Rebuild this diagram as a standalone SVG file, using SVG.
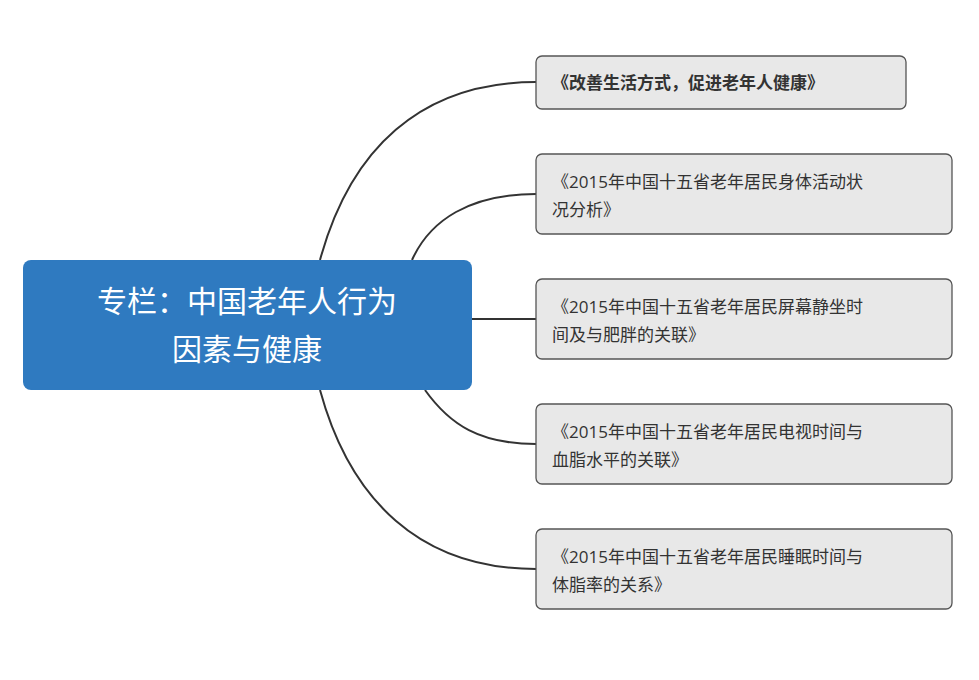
<svg xmlns="http://www.w3.org/2000/svg" width="979" height="680" viewBox="0 0 979 680">
<style>
.n{fill:#e8e8e8;stroke:#555;stroke-width:1.3}
.t{font-family:"Open Sans","Noto Sans CJK SC",sans-serif;font-size:17px;fill:#333}
.c{fill:none;stroke:#333;stroke-width:2}
</style>
<rect width="979" height="680" fill="#fff"/>
<g id="connectors">
<path class="c" d="M320 260 C350 150 420 82 536 82"/>
<path class="c" d="M412 260 C430 220 470 194 536 194"/>
<path class="c" d="M472 319 L536 319"/>
<path class="c" d="M425 390 C450 425 480 444 536 444"/>
<path class="c" d="M320 390 C350 500 420 569 536 569"/>
</g>
<g id="center">
<rect x="23" y="260" width="449" height="130" rx="8" fill="#2f7ac0"/>
<text x="247" y="312" text-anchor="middle" font-family="Open Sans,Noto Sans CJK SC,sans-serif" font-size="30" fill="#fff">专栏：中国老年人行为</text>
<text x="247" y="360" text-anchor="middle" font-family="Open Sans,Noto Sans CJK SC,sans-serif" font-size="30" fill="#fff">因素与健康</text>
</g>
<g id="n1"><rect class="n" x="536" y="56" width="370" height="53" rx="6"/><text class="t" x="552" y="89" font-weight="bold">《改善生活方式，促进老年人健康》</text></g>
<g id="n2"><rect class="n" x="536" y="154" width="416" height="80" rx="6"/><text class="t" x="552" y="188">《2015年中国十五省老年居民身体活动状</text><text class="t" x="552" y="216">况分析》</text></g>
<g id="n3"><rect class="n" x="536" y="279" width="416" height="80" rx="6"/><text class="t" x="552" y="313">《2015年中国十五省老年居民屏幕静坐时</text><text class="t" x="552" y="341">间及与肥胖的关联》</text></g>
<g id="n4"><rect class="n" x="536" y="404" width="416" height="80" rx="6"/><text class="t" x="552" y="438">《2015年中国十五省老年居民电视时间与</text><text class="t" x="552" y="466">血脂水平的关联》</text></g>
<g id="n5"><rect class="n" x="536" y="529" width="416" height="80" rx="6"/><text class="t" x="552" y="563">《2015年中国十五省老年居民睡眠时间与</text><text class="t" x="552" y="591">体脂率的关系》</text></g>
</svg>
